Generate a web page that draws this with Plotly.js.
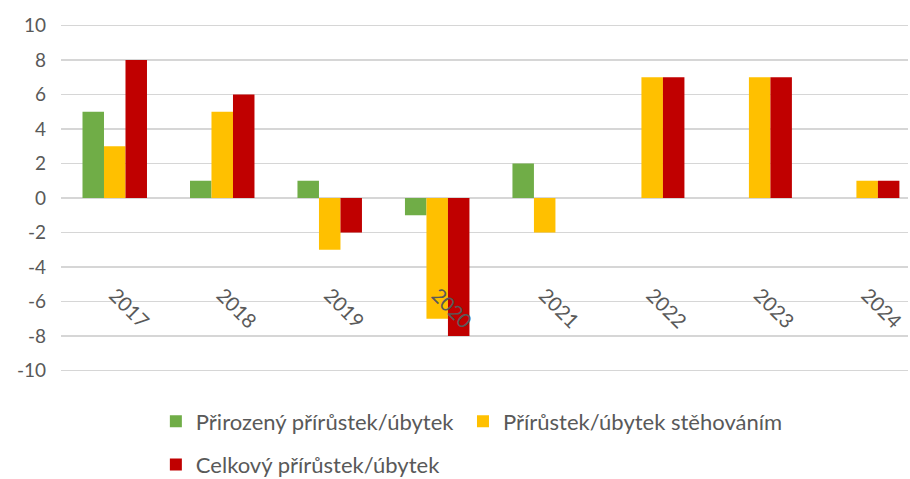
<!DOCTYPE html>
<html>
<head>
<meta charset="utf-8">
<script src="https://cdn.plot.ly/plotly-3.0.1.min.js"></script>
<style>html,body{margin:0;padding:0;background:#fff;}#chart{width:910px;height:479px;}</style>
</head>
<body>
<div id="chart"></div>
<script>
var years = ['2017','2018','2019','2020','2021','2022','2023','2024'];
var seriesNames = ['Přirozený přírůstek/úbytek','Přírůstek/úbytek stěhováním','Celkový přírůstek/úbytek'];
var natural = [5, 1, 1, -1, 2, 0, 0, 0];
var migration = [3, 5, -3, -7, -2, 7, 7, 1];
var total = [8, 6, -2, -8, 0, 7, 7, 1];
var yTicks = [-10,-8,-6,-4,-2,0,2,4,6,8,10];

var colors = ['#70AD47','#FFC000','#C00000'];
var fontFam = 'Lato, "Open Sans", sans-serif';
var txtColor = '#595959';
var legendIds = ['legend','legend3','legend2'];

var data = [natural, migration, total].map(function(v, i){
  return {
    type: 'bar', x: years, y: v, name: seriesNames[i],
    marker: {color: colors[i]},
    legend: legendIds[i],
    hoverinfo: 'x+y+name'
  };
});

function legendBox(x, y) {
  return {
    orientation: 'h', x: x, y: y, xanchor: 'left', yanchor: 'top',
    font: {size: 22, color: txtColor, family: fontFam},
    bgcolor: 'rgba(0,0,0,0)'
  };
}

var layout = {
  width: 910, height: 479,
  margin: {l: 61, r: 2, t: 24, b: 107, autoexpand: false},
  paper_bgcolor: '#fff', plot_bgcolor: '#fff',
  barmode: 'group', bargap: 0.4, bargroupgap: 0,
  font: {family: fontFam, color: txtColor, size: 19},
  xaxis: {
    type: 'category', range: [-0.5, 7.38], automargin: false,
    anchor: 'free', position: 0.268,
    showgrid: false, zeroline: false, showline: false, ticks: '',
    tickangle: 45, tickfont: {size: 20, color: txtColor, family: fontFam}
  },
  yaxis: {
    range: [-10.08, 10.08], tickvals: yTicks, ticktext: yTicks.map(String),
    automargin: false,
    showgrid: true, gridcolor: '#d6d6d6', gridwidth: 1.4,
    zeroline: true, zerolinecolor: '#d6d6d6', zerolinewidth: 1.4,
    showline: false, ticks: '', ticklabelstandoff: 14,
    tickfont: {size: 19, color: txtColor, family: fontFam}
  },
  legend: legendBox(0.112, -0.082),
  legend3: legendBox(0.4746, -0.082),
  legend2: legendBox(0.112, -0.206),
  showlegend: true
};

Plotly.newPlot('chart', data, layout, {displayModeBar: false, staticPlot: true});
</script>
</body>
</html>
